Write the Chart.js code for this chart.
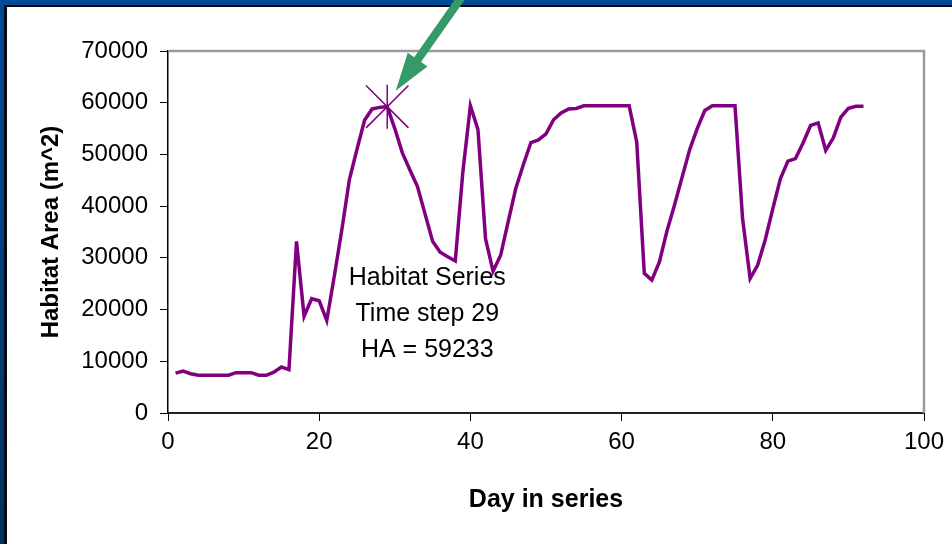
<!DOCTYPE html>
<html lang="en">

<head>
  <meta charset="utf-8">
  <title>Habitat Series</title>
  <script src="https://cdn.jsdelivr.net/npm/chart.js@4.4.1/dist/chart.umd.min.js"></script>
  <style>
    body { margin: 0; background: #fff; }
    canvas { display: block; }
  </style>
</head>

<body>
  <canvas id="myChart" width="952" height="544"></canvas>

  <script>
    // day in series and habitat area (m^2)
    var days = [];
    for (var d = 1; d <= 92; d++) days.push(d);
    var habitatArea = [
      7700, 8100, 7600, 7300, 7300, 7300, 7300, 7300, 7800, 7800,
      7800, 7300, 7300, 7900, 8900, 8400, 33200, 18700, 22100, 21700,
      17900, 26500, 35500, 45200, 51000, 56600, 58800, 59100, 59233, 55000,
      50300, 47000, 43800, 38500, 33200, 31100, 30200, 29400, 46600, 59400,
      54800, 33700, 27400, 30500, 37000, 43400, 48000, 52300, 52800, 54000,
      56700, 58000, 58800, 58900, 59400, 59400, 59400, 59400, 59400, 59400,
      59400, 52400, 27000, 25700, 29200, 35200, 40200, 45600, 50900, 55000,
      58500, 59400, 59400, 59400, 59400, 37600, 26000, 28600, 33500, 39500,
      45300, 48700, 49200, 52200, 55600, 56100, 50800, 53200, 57200, 58900,
      59300, 59300
    ];

    // highlighted point and its note
    var markerDay = 29;
    var markerValue = 59233;
    var noteLines = ['Habitat Series', 'Time step 29', 'HA = 59233'];
    var noteAt = { x: 34.3, y: 24700 };

    var xTicks = [0, 20, 40, 60, 80, 100];
    var yTicks = [0, 10000, 20000, 30000, 40000, 50000, 60000, 70000];

    var purple = '#800080';
    var font = 'Arial, "Liberation Sans", sans-serif';

    var points = days.map(function (day, i) {
      return { x: day, y: habitatArea[i] };
    });

    // blue slide frame behind the white panel
    var slideBackground = {
      id: 'slideBackground',
      beforeDraw: function (chart) {
        var ctx = chart.ctx;
        var w = chart.width, h = chart.height;
        ctx.save();
        var g = ctx.createLinearGradient(0, 0, 0, h);
        g.addColorStop(0, '#004a98');
        g.addColorStop(1, '#00335f');
        ctx.fillStyle = g;
        ctx.fillRect(0, 0, w, h);
        ctx.fillStyle = '#0a0a14';
        ctx.fillRect(4, 5, w - 4, h - 5);
        ctx.fillStyle = '#ffffff';
        ctx.fillRect(7, 7, w - 7, h - 7);
        ctx.restore();
      },
      beforeDatasetsDraw: function (chart) {
        // grey top and right edges of the plot box
        var a = chart.chartArea;
        var ctx = chart.ctx;
        ctx.save();
        ctx.strokeStyle = '#9a9a9a';
        ctx.lineWidth = 2.5;
        ctx.beginPath();
        ctx.moveTo(a.left, a.top);
        ctx.lineTo(a.right, a.top);
        ctx.lineTo(a.right, a.bottom);
        ctx.stroke();
        ctx.restore();
      }
    };

    // note text and green arrow pointing at the marker
    var annotations = {
      id: 'annotations',
      afterDatasetsDraw: function (chart) {
        var ctx = chart.ctx;
        var xs = chart.scales.x, ys = chart.scales.y;
        ctx.save();
        ctx.fillStyle = '#000';
        ctx.font = '25px ' + font;
        ctx.textAlign = 'center';
        ctx.textBaseline = 'alphabetic';
        var nx = xs.getPixelForValue(noteAt.x);
        var ny = ys.getPixelForValue(noteAt.y);
        noteLines.forEach(function (line, i) {
          ctx.fillText(line, nx, ny + i * 36);
        });

        var mx = xs.getPixelForValue(markerDay);
        var my = ys.getPixelForValue(markerValue);
        var tipX = mx + 8.5, tipY = my - 16;
        var ux = 0.575, uy = -0.818;     // direction from tip to tail
        var px = -uy, py = ux;           // perpendicular
        var headLen = 38, headHalf = 12, shaft = 4.2, tail = 135;
        var bx = tipX + ux * headLen, by = tipY + uy * headLen;
        var ex = tipX + ux * tail, ey = tipY + uy * tail;
        ctx.fillStyle = '#359a68';
        ctx.beginPath();
        ctx.moveTo(tipX, tipY);
        ctx.lineTo(bx + px * headHalf, by + py * headHalf);
        ctx.lineTo(bx + px * shaft, by + py * shaft);
        ctx.lineTo(ex + px * shaft, ey + py * shaft);
        ctx.lineTo(ex - px * shaft, ey - py * shaft);
        ctx.lineTo(bx - px * shaft, by - py * shaft);
        ctx.lineTo(bx - px * headHalf, by - py * headHalf);
        ctx.closePath();
        ctx.fill();
        ctx.restore();
      }
    };

    var ctx = document.getElementById('myChart');
    var myChart = new Chart(ctx, {
      type: 'line',
      data: {
        datasets: [
          {
            label: 'marker X',
            data: [{ x: markerDay, y: markerValue }],
            showLine: false,
            pointStyle: 'crossRot',
            pointRadius: 30,
            pointBorderWidth: 1.5,
            pointBorderColor: purple,
            pointBackgroundColor: 'transparent',
            order: 0
          },
          {
            label: 'marker bar',
            data: [{ x: markerDay, y: markerValue }],
            showLine: false,
            pointStyle: 'line',
            pointRotation: 90,
            pointRadius: 22,
            pointBorderWidth: 1.5,
            pointBorderColor: purple,
            order: 0
          },
          {
            label: 'Habitat Series',
            data: points,
            borderColor: purple,
            borderWidth: 3.5,
            pointRadius: 0,
            tension: 0,
            order: 1
          }
        ]
      },
      options: {
        responsive: false,
        animation: false,
        events: [],
        layout: {
          autoPadding: false,
          padding: { top: 51, right: 28, bottom: 0, left: 0 }
        },
        plugins: {
          legend: { display: false },
          tooltip: { enabled: false }
        },
        scales: {
          x: {
            type: 'linear',
            min: 0,
            max: 100,
            afterBuildTicks: function (scale) {
              scale.ticks = xTicks.map(function (v) { return { value: v }; });
            },
            afterFit: function (scale) { scale.height = 131; },
            grid: {
              drawOnChartArea: false,
              tickLength: 8,
              tickColor: '#000',
              tickWidth: 1
            },
            border: { color: '#222', width: 2 },
            ticks: {
              color: '#000',
              padding: 7,
              maxRotation: 0,
              font: { family: font, size: 24 }
            },
            title: {
              display: true,
              text: 'Day in series',
              color: '#000',
              padding: { top: 0, bottom: 29 },
              font: { family: font, size: 25, weight: 'bold' }
            }
          },
          y: {
            min: 0,
            max: 70000,
            afterBuildTicks: function (scale) {
              scale.ticks = yTicks.map(function (v) { return { value: v }; });
            },
            afterFit: function (scale) { scale.width = 168; },
            grid: {
              drawOnChartArea: false,
              tickLength: 8,
              tickColor: '#000',
              tickWidth: 1
            },
            border: { color: '#000', width: 1.5 },
            ticks: {
              color: '#000',
              padding: 12,
              font: { family: font, size: 24 },
              callback: function (v) { return String(v); }
            },
            title: {
              display: true,
              text: 'Habitat Area (m^2)',
              color: '#000',
              padding: { top: 37, bottom: 0 },
              font: { family: font, size: 24, weight: 'bold' }
            }
          }
        }
      },
      plugins: [slideBackground, annotations]
    });
  </script>
</body>

</html>
